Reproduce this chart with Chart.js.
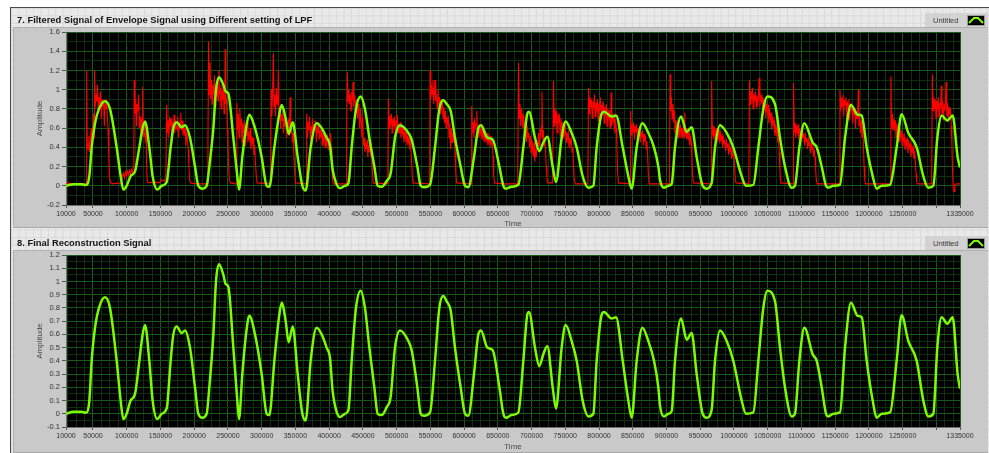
<!DOCTYPE html>
<html>
<head>
<meta charset="utf-8">
<script src="https://cdn.jsdelivr.net/npm/chart.js@4.4.1/dist/chart.umd.min.js"></script>
<style>
  html, body { margin: 0; padding: 0; }
  body { width: 989px; height: 453px; position: relative; overflow: hidden; background: #ffffff;
         font-family: 'Liberation Sans', Arial, sans-serif; }
  #panel { position: absolute; left: 10px; top: 7px; width: 979px; height: 446px;
           border-left: 1px solid #4a4a4a; border-top: 1px solid #4a4a4a;
           background-color: #e9e9e9;
           background-image: linear-gradient(#d9d9d9 1px, transparent 1px),
                             linear-gradient(90deg, #d9d9d9 1px, transparent 1px);
           background-size: 7.4px 7.4px; }
  .frame { position: absolute; left: 13px; width: 975px; background: #c9c9c9;
           border-top: 1px solid #b0b0b0; border-left: 1px solid #b0b0b0; border-bottom: 1px solid #a8a8a8;
           box-sizing: border-box; }
  .title { position: absolute; left: 17px; font-weight: bold; font-size: 9.4px; color: #141414; white-space: nowrap; }
  .legend { position: absolute; left: 925px; width: 63px; height: 14px; background: #d3d3d3; }
  .legend span { position: absolute; left: 8px; top: 3px; font-size: 7.5px; color: #3a3a3a; }
  .legend svg { position: absolute; left: 42px; top: 2px; }
  canvas { position: absolute; }
</style>
</head>
<body>
<div id="panel"></div>
<div class="frame" style="top:27px;height:201px;"></div>
<div class="frame" style="top:250px;height:203px;"></div>

<canvas id="topChart" width="975" height="206" style="left:13px;top:24px;"></canvas>
<canvas id="bottomChart" width="975" height="206" style="left:13px;top:247px;"></canvas>

<div class="title" style="top:14px;">7. Filtered Signal of Envelope Signal using Different setting of LPF</div>
<div class="title" style="top:237px;">8. Final Reconstruction Signal</div>

<div class="legend" style="top:13px;"><span>Untitled</span>
  <svg width="18" height="11"><rect x="0.5" y="0.5" width="17" height="10" fill="#000" stroke="#9a9a9a"/>
  <polyline points="2,8 7,3 11,3 16,8" fill="none" stroke="#7cfc00" stroke-width="2"/></svg></div>
<div class="legend" style="top:236px;"><span>Untitled</span>
  <svg width="18" height="11"><rect x="0.5" y="0.5" width="17" height="10" fill="#000" stroke="#9a9a9a"/>
  <polyline points="2,8 7,3 11,3 16,8" fill="none" stroke="#7cfc00" stroke-width="2"/></svg></div>

<script>
// Time axis: range and labelled ticks (1300000 carries a tick mark only)
const timeMin = 10000;
const timeMax = 1335000;
const timeTicks = [10000, 50000, 100000, 150000, 200000, 250000, 300000, 350000, 400000, 450000,
  500000, 550000, 600000, 650000, 700000, 750000, 800000, 850000, 900000, 950000, 1000000,
  1050000, 1100000, 1150000, 1200000, 1250000, 1300000, 1335000];
const timeUnlabelled = [1300000];

// Amplitude axes
const topAmpTicks = [-0.2, 0, 0.2, 0.4, 0.6, 0.8, 1, 1.2, 1.4, 1.6];
const bottomAmpTicks = [-0.1, 0, 0.1, 0.2, 0.3, 0.4, 0.5, 0.6, 0.7, 0.8, 0.9, 1, 1.1, 1.2];

// Low-pass filtered envelope / final reconstruction [time, amplitude]
const filteredEnvelope = [
  [10000,0.0],[20870,0.015],[33200,0.015],[39640,0.008],[44580,0.1],[48040,0.4],[53000,0.65],[58900,0.8],
  [67800,0.88],[75200,0.8],[85100,0.4],[91000,0.1],[95000,-0.04],[99900,0.0],[105800,0.1],[112300,0.15],
  [118700,0.4],[123600,0.6],[127100,0.67],[133500,0.4],[138400,0.1],[145400,-0.04],[151800,0.0],[159200,0.04],
  [165100,0.4],[169100,0.6],[174000,0.66],[181400,0.61],[186400,0.63],[193800,0.5],[201200,0.2],[206100,0.0],
  [212100,-0.03],[218500,0.0],[222400,0.2],[228400,0.6],[232300,1.0],[236800,1.13],[243200,1.05],[246700,0.98],
  [250600,0.96],[258000,0.5],[263900,0.1],[266400,-0.04],[271300,0.3],[276800,0.6],[281700,0.74],[290100,0.6],
  [300000,0.3],[307400,0.0],[311400,-0.01],[318800,0.4],[326200,0.75],[329700,0.84],[335600,0.7],[340000,0.54],
  [346000,0.66],[353400,0.3],[360300,0.0],[365200,-0.05],[372600,0.4],[381500,0.65],[388900,0.6],[396300,0.5],
  [401300,0.42],[405200,0.17],[410200,0.03],[416100,-0.025],[423500,0.0],[428500,0.025],[433400,0.4],[439800,0.8],
  [446700,0.93],[453100,0.8],[459600,0.5],[467000,0.2],[471900,0.0],[477900,-0.01],[485300,0.05],[491200,0.13],
  [497600,0.5],[505000,0.63],[517400,0.55],[522300,0.48],[530700,0.2],[535700,0.0],[540600,-0.015],[549500,0.01],
  [556900,0.4],[563300,0.8],[569200,0.89],[574200,0.85],[580100,0.78],[586500,0.5],[594900,0.2],[601400,0.0],
  [606300,-0.015],[614700,0.3],[621100,0.6],[625100,0.63],[634500,0.5],[642400,0.48],[652300,0.2],[658200,0.0],
  [662100,-0.03],[670500,-0.01],[680400,0.01],[687800,0.4],[693700,0.75],[696200,0.77],[705100,0.5],[711500,0.36],
  [717400,0.45],[723400,0.51],[731300,0.2],[736200,0.04],[744600,0.5],[750500,0.67],[759400,0.55],[766900,0.4],
  [775700,0.1],[784200,-0.02],[791600,0.0],[796500,0.4],[803900,0.75],[807400,0.77],[818700,0.72],[825200,0.73],
  [835100,0.4],[843400,0.1],[848400,-0.03],[855800,0.4],[864200,0.65],[873100,0.55],[881500,0.4],[887900,0.2],
  [890400,0.06],[896300,-0.02],[902700,0.0],[907700,0.02],[912600,0.4],[921500,0.72],[929900,0.56],[937300,0.61],
  [944700,0.3],[953600,0.0],[959500,-0.03],[966900,0.03],[971900,0.4],[979300,0.63],[989200,0.55],[999000,0.4],
  [1011400,0.1],[1017800,0.0],[1028700,0.01],[1036100,0.4],[1043500,0.8],[1049500,0.93],[1060800,0.85],[1068200,0.5],
  [1075600,0.2],[1085500,-0.02],[1090400,0.0],[1096900,0.4],[1104300,0.65],[1116600,0.45],[1122600,0.4],[1130000,0.2],
  [1136400,0.0],[1139800,-0.02],[1147300,0.0],[1157100,0.01],[1164600,0.5],[1173400,0.84],[1183300,0.74],[1189300,0.73],
  [1196700,0.4],[1205600,0.1],[1211500,-0.03],[1218900,0.0],[1231300,0.01],[1241100,0.4],[1248500,0.745],[1258400,0.55],
  [1270800,0.4],[1280600,0.1],[1288000,-0.02],[1295500,0.0],[1301400,0.5],[1307800,0.73],[1316200,0.68],[1324100,0.73],
  [1331500,0.3],[1335000,0.19]
];

// Raw envelope before filtering [time, amplitude]
const rawEnvelope = [
  [10000,-0.01],[12000,0.03],[20000,0.02],[30000,0.025],[39800,0.02],
  [40600,1.2],[41500,0.45],[42700,0.38],[43900,0.52],[45000,0.35],[46200,0.48],[47400,0.6],[48500,0.42],[49700,0.55],
  [50800,0.75],[51600,0.5],[52200,1.2],[53300,0.82],[54500,0.95],[55600,0.88],[56700,1.05],[57800,0.78],[59000,0.92],
  [60100,0.85],[61200,0.98],[62300,0.7],[63400,0.9],[64600,0.82],[65700,0.88],[66800,0.62],[67900,0.86],[69000,0.8],
  [70100,0.9],[71200,0.74],[72300,0.6],[73400,0.3],[74600,0.08],[76000,0.03],[78000,0.02],
  [92000,0.03],[93500,0.1],[95000,0.13],[96500,0.08],[98000,0.14],[99500,0.1],[101000,0.15],[102500,0.11],[104000,0.16],
  [105500,0.12],[107000,0.17],[108500,0.14],[110000,0.2],[110600,0.3],
  [111100,1.1],[112200,0.75],[113300,0.9],[114400,0.62],[115500,0.85],[116600,0.78],[117700,0.95],[118800,0.6],
  [119900,0.72],[121000,0.55],[122100,0.7],[123000,0.62],[123600,1.03],[124500,0.58],[125600,0.5],[126700,0.65],
  [127800,0.45],[128800,0.55],[129500,0.22],[130300,0.06],[132000,0.03],
  [140000,0.04],[148000,0.03],[152000,0.06],[156000,0.05],[158000,0.08],
  [159200,0.84],[160300,0.55],[161400,0.68],[162500,0.5],[163600,0.72],[164700,0.62],[165800,0.7],[166900,0.45],
  [168000,0.66],[169100,0.6],[170200,0.74],[171300,0.55],[172400,0.68],[173500,0.62],[174600,0.58],[175700,0.72],
  [176800,0.5],[177900,0.66],[179000,0.6],[180100,0.76],[181200,0.58],[182300,0.68],[183400,0.52],[184500,0.62],
  [185600,0.55],[186700,0.6],[187800,0.42],[188900,0.55],[190000,0.48],[191100,0.38],[192200,0.2],[193300,0.06],
  [194500,0.03],
  [205000,0.02],[219500,0.02],
  [220400,0.5],[221400,1.5],[222400,0.95],[223400,1.28],[224500,0.9],[225600,1.1],[226700,0.85],[227800,1.05],
  [228900,0.95],[230000,1.15],[231100,0.82],[232200,1.0],[233300,0.92],[234400,1.08],[235500,0.88],[236600,1.2],
  [237700,0.95],[238800,1.02],[239900,0.8],[241000,1.05],[242100,0.9],[243200,1.0],[244300,0.75],[245300,0.95],
  [246000,1.42],[247000,0.85],[248000,0.92],[249000,0.6],[250000,0.5],[251000,0.2],[252200,0.06],[253500,0.03],
  [262000,0.02],
  [263200,0.86],[264300,0.58],[265400,0.75],[266500,0.5],[267600,0.8],[268700,0.62],[269800,0.7],[270900,0.45],
  [272000,0.65],[273100,0.55],[274200,0.68],[275300,0.42],[276400,0.6],[277500,0.52],[278600,0.66],[279700,0.45],
  [280800,0.56],[281900,0.5],[283000,0.6],[284100,0.38],[285200,0.52],[286300,0.45],[287400,0.5],[288500,0.32],
  [289600,0.42],[290700,0.25],[291800,0.12],[293200,0.03],
  [313500,0.02],
  [313900,1.0],[315000,0.72],[316200,0.98],[317300,1.38],[318400,0.82],[319500,0.95],[320600,0.72],[321700,1.02],
  [322800,0.85],[323900,0.9],[324700,1.2],[325800,0.7],[326900,0.82],[328000,0.6],[329100,0.75],[330200,0.68],
  [331300,0.8],[332400,0.55],[333500,0.7],[334600,0.62],[335700,0.72],[336800,0.5],[337900,0.66],[339000,0.6],
  [340100,0.7],[341200,0.52],[342200,0.92],[343300,0.55],[344400,0.62],[345500,0.45],[346600,0.55],[347700,0.35],
  [348800,0.15],[350200,0.03],
  [366000,0.02],
  [366700,0.75],[367800,0.5],[368900,0.66],[370000,0.58],[371100,0.72],[372200,0.48],[373300,0.62],[374400,0.55],
  [375500,0.7],[376600,0.52],[377700,0.64],[378800,0.58],[379900,0.68],[381000,0.45],[382100,0.6],[383200,0.55],
  [384300,0.66],[385400,0.48],[386500,0.58],[387600,0.5],[388700,0.6],[389800,0.42],[390900,0.55],[392000,0.48],
  [393100,0.56],[394200,0.4],[395300,0.52],[396400,0.45],[397500,0.5],[398600,0.38],[399700,0.5],[400800,0.44],
  [401900,0.55],[403000,0.4],[404000,0.2],[405000,0.06],[406300,0.02],
  [425000,0.02],
  [426000,0.55],[426900,1.18],[428000,0.88],[429100,1.0],[430200,0.85],[431300,0.95],[432400,0.78],[433500,0.98],
  [434600,0.9],[435400,1.08],[436500,0.82],[437600,0.95],[438700,0.88],[439800,0.76],[440900,0.9],[442000,0.7],
  [443100,0.85],[444200,0.78],[445300,0.6],[446400,0.8],[447500,0.68],[448600,0.5],[449700,0.72],[450800,0.42],
  [451900,0.5],[453000,0.35],[454100,0.45],[455200,0.38],[456300,0.48],[457400,0.3],[458500,0.42],[459600,0.35],
  [460700,0.45],[461800,0.3],[462900,0.36],[464000,0.15],[465300,0.03],
  [487000,0.02],
  [487800,0.91],[488900,0.6],[490000,0.72],[491100,0.66],[492200,0.75],[493300,0.55],[494400,0.7],[495500,0.62],
  [496600,0.72],[497700,0.58],[498800,0.68],[499900,0.62],[501000,0.74],[502100,0.55],[503200,0.64],[504300,0.58],
  [505400,0.66],[506500,0.5],[507600,0.6],[508700,0.55],[509800,0.62],[510900,0.45],[512000,0.56],[513100,0.5],
  [514200,0.58],[515300,0.42],[516400,0.52],[517500,0.45],[518600,0.5],[519700,0.38],[520800,0.42],[521900,0.3],
  [523000,0.12],[524300,0.03],
  [549000,0.02],
  [549500,1.2],[550600,0.9],[551700,1.05],[552800,0.95],[553900,1.1],[555000,0.85],[556100,0.98],[556900,1.1],
  [558000,0.88],[559100,0.95],[560200,0.8],[561300,1.0],[562400,0.85],[563500,0.92],[564600,0.75],[565700,0.9],
  [566800,0.82],[567900,0.88],[569000,0.7],[570100,0.82],[571200,0.65],[572300,0.78],[573400,0.6],[574500,0.72],
  [575600,0.66],[576700,0.7],[577800,0.5],[578900,0.65],[580000,0.38],[581100,0.6],[582200,0.45],[583300,0.55],
  [584400,0.48],[585500,0.52],[586600,0.35],[587700,0.15],[589000,0.03],
  [610500,0.02],
  [611300,0.83],[612400,0.55],[613500,0.66],[614600,0.5],[615700,0.7],[616800,0.6],[617900,0.64],[618900,0.78],
  [619900,0.55],[621000,0.62],[622100,0.5],[623200,0.6],[624300,0.55],[625400,0.64],[626500,0.48],[627600,0.56],
  [628700,0.5],[629800,0.58],[630900,0.45],[632000,0.52],[633100,0.48],[634200,0.55],[635300,0.42],[636400,0.5],
  [637500,0.45],[638600,0.52],[639700,0.4],[640800,0.48],[641900,0.44],[643000,0.3],[644000,0.1],[645200,0.03],
  [660000,0.02],[679500,0.02],
  [680600,1.28],[681700,0.7],[682800,0.85],[683900,0.62],[685000,0.8],[686100,0.72],[687200,0.6],[688300,0.75],
  [689400,0.52],[690500,0.66],[691600,0.58],[692700,0.45],[693800,0.62],[694900,0.5],[696000,0.55],[697100,0.4],
  [698200,0.52],[699300,0.35],[700400,0.48],[701500,0.42],[702600,0.3],[703700,0.45],[704800,0.25],[705900,0.38],
  [707000,0.3],[708100,0.45],[709200,0.38],[710300,0.55],[711400,0.42],[712500,0.6],[713600,0.5],[714600,0.62],
  [715400,0.98],[716400,0.48],[717500,0.58],[718600,0.42],[719700,0.5],[720800,0.35],[721800,0.2],[722800,0.08],
  [724000,0.03],[731000,0.03],
  [732500,1.09],[733600,0.62],[734700,0.8],[735800,0.65],[736900,0.78],[738000,0.55],[739100,0.75],[740200,0.68],
  [741300,0.72],[742400,0.52],[743500,0.7],[744600,0.6],[745700,0.66],[746800,0.5],[747900,0.62],[749000,0.55],
  [750100,0.6],[751200,0.45],[752300,0.56],[753400,0.5],[754500,0.55],[755600,0.4],[756700,0.5],[757800,0.45],
  [758900,0.48],[760000,0.35],[761100,0.4],[762200,0.22],[763300,0.06],[764800,0.02],
  [783500,0.02],
  [784400,1.02],[785500,0.75],[786600,0.92],[787700,0.82],[788800,0.9],[789900,0.7],[791000,0.88],[792100,0.8],
  [793200,0.95],[794300,0.72],[795400,0.86],[796500,0.8],[797600,0.9],[798700,0.68],[799800,0.85],[800900,0.78],
  [802000,0.92],[803100,0.74],[804200,0.84],[805300,0.8],[806400,0.88],[807500,0.65],[808600,0.82],[809700,0.76],
  [810800,0.85],[811900,0.62],[813000,0.8],[814100,0.72],[815200,0.78],[816300,0.6],[817400,0.75],[818000,0.97],
  [819000,0.62],[820100,0.75],[821200,0.68],[822300,0.72],[823400,0.55],[824500,0.68],[825600,0.6],[826500,0.4],
  [827500,0.15],[828700,0.03],
  [846000,0.02],
  [846900,0.78],[848000,0.52],[849100,0.64],[850200,0.55],[851300,0.66],[852400,0.48],[853500,0.62],[854600,0.56],
  [855700,0.64],[856800,0.46],[857900,0.6],[859000,0.52],[860100,0.6],[861200,0.45],[862300,0.56],[863400,0.5],
  [864500,0.58],[865600,0.42],[866700,0.54],[867800,0.46],[868900,0.52],[870000,0.38],[871100,0.46],[872100,0.3],
  [873100,0.12],[874300,0.02],
  [904500,0.02],
  [905200,1.16],[906300,0.78],[907400,0.92],[908500,0.7],[909600,0.85],[910700,0.66],[911800,0.78],[912900,0.55],
  [914000,0.68],[915100,0.6],[916200,0.65],[917300,0.5],[918400,0.62],[919500,0.56],[920600,0.64],[921700,0.5],
  [922800,0.6],[923900,0.54],[925000,0.62],[926100,0.5],[926900,0.76],[927900,0.52],[929000,0.6],[930100,0.48],
  [931200,0.58],[932300,0.5],[933400,0.55],[934500,0.42],[935600,0.52],[936700,0.45],[937700,0.3],[938700,0.1],
  [940000,0.03],
  [966000,0.02],
  [966900,1.09],[968000,0.52],[969100,0.62],[970200,0.48],[971300,0.58],[972400,0.52],[973500,0.6],[974600,0.45],
  [975700,0.56],[976800,0.5],[977900,0.58],[979000,0.44],[980100,0.54],[981200,0.48],[982300,0.52],[983400,0.4],
  [984500,0.5],[985600,0.44],[986700,0.48],[987800,0.36],[988900,0.46],[990000,0.4],[991100,0.44],[992200,0.32],
  [993300,0.42],[994400,0.36],[995500,0.4],[996600,0.28],[997700,0.36],[998800,0.3],[999900,0.32],[1000900,0.2],
  [1001900,0.07],[1003100,0.03],
  [1022000,0.02],
  [1023000,1.1],[1024100,0.85],[1025200,0.98],[1026300,0.9],[1027400,1.02],[1028500,0.8],[1029600,0.95],[1030700,0.88],
  [1031800,0.98],[1032900,0.82],[1034000,0.94],[1035100,0.86],[1036200,0.92],[1037400,1.12],[1038500,0.82],[1039600,0.95],
  [1040700,0.88],[1041800,0.92],[1042900,0.75],[1044000,0.9],[1045100,0.82],[1046200,0.88],[1047300,0.7],[1048400,0.85],
  [1049500,0.78],[1050600,0.84],[1051700,0.65],[1052800,0.8],[1053900,0.7],[1055000,0.76],[1056100,0.58],[1057200,0.72],
  [1058300,0.64],[1059400,0.68],[1060500,0.52],[1061600,0.64],[1062700,0.55],[1063800,0.6],[1064900,0.45],[1066000,0.5],
  [1067100,0.35],[1068200,0.15],[1069500,0.03],
  [1087500,0.02],
  [1088300,1.07],[1089400,0.55],[1090500,0.65],[1091600,0.5],[1092700,0.62],[1093800,0.56],[1094900,0.64],[1096000,0.48],
  [1097100,0.6],[1098200,0.52],[1099300,0.58],[1100400,0.45],[1101500,0.56],[1102600,0.5],[1103700,0.55],[1104800,0.42],
  [1105900,0.52],[1107000,0.46],[1108100,0.5],[1109200,0.38],[1110300,0.48],[1111400,0.42],[1112500,0.46],[1113600,0.34],
  [1114700,0.44],[1115800,0.38],[1116900,0.42],[1118000,0.3],[1119100,0.38],[1120200,0.3],[1121200,0.15],[1122200,0.05],
  [1123300,0.02],
  [1156000,0.02],
  [1157100,1.0],[1158200,0.78],[1159300,0.92],[1160400,0.82],[1161500,0.95],[1162600,0.72],[1163700,0.9],[1164800,0.84],
  [1165900,0.92],[1167000,0.7],[1168100,0.88],[1169200,0.8],[1170300,0.9],[1171400,0.68],[1172500,0.85],[1173600,0.78],
  [1174700,0.86],[1175800,0.65],[1176900,0.82],[1178000,0.74],[1179100,0.8],[1180200,0.6],[1181300,0.78],[1182400,0.7],
  [1183400,0.76],[1184300,1.0],[1185300,0.62],[1186400,0.72],[1187500,0.55],[1188600,0.68],[1189700,0.5],[1190800,0.62],
  [1191800,0.45],[1192800,0.2],[1194000,0.05],[1195200,0.02],
  [1231800,0.02],
  [1232600,1.14],[1233700,0.6],[1234800,0.75],[1235900,0.58],[1237000,0.7],[1238100,0.62],[1239200,0.68],[1240300,0.5],
  [1241400,0.65],[1242500,0.56],[1243600,0.62],[1244700,0.46],[1245800,0.6],[1246900,0.52],[1248000,0.58],[1249100,0.42],
  [1250200,0.55],[1251300,0.48],[1252400,0.52],[1253500,0.38],[1254600,0.5],[1255700,0.44],[1256800,0.48],[1257900,0.34],
  [1259000,0.45],[1260100,0.4],[1261200,0.44],[1262300,0.3],[1263400,0.42],[1264500,0.36],[1265600,0.4],[1266700,0.28],
  [1267800,0.36],[1268900,0.25],[1269900,0.12],[1271000,0.04],[1272300,0.02],
  [1293000,0.02],
  [1294000,1.16],[1295100,0.78],[1296200,0.92],[1297300,0.8],[1298400,0.9],[1299500,0.7],[1300600,0.88],[1301700,0.82],
  [1302800,0.92],[1303900,0.72],[1305000,0.86],[1306100,0.8],[1307200,1.04],[1308300,0.75],[1309400,0.88],[1310500,0.68],
  [1311600,0.85],[1312700,0.78],[1313600,0.9],[1314400,1.08],[1315400,0.72],[1316500,0.86],[1317600,0.66],[1318700,0.82],
  [1319800,0.74],[1320900,0.8],[1322000,0.62],[1323000,0.45],[1324000,0.15],[1325000,-0.02],[1326300,-0.06],[1327500,0.01],
  [1329000,0.02],[1335000,0.02]
];

const FONT = "'Liberation Sans', Arial, sans-serif";
const MAJOR_GRID = '#195a19';
const MINOR_GRID = '#0b300b';

const toPoints = rows => rows.map(r => ({ x: r[0], y: r[1] }));

// Majors from the given list, minors every minorStep that is not a major multiple
function tickSet(majors, min, max, majorStep, minorStep) {
  const out = majors.map(v => ({ value: v, minor: false }));
  const n0 = Math.ceil(min / minorStep - 1e-9), n1 = Math.floor(max / minorStep + 1e-9);
  for (let k = n0; k <= n1; k++) {
    const v = k * minorStep;
    const r = Math.abs(v / majorStep - Math.round(v / majorStep));
    if (r > 1e-6 && v > min + 1e-9 && v < max - 1e-9) out.push({ value: v, minor: true });
  }
  out.sort((a, b) => a.value - b.value);
  return out;
}

const plotBackground = {
  id: 'plotBackground',
  beforeDraw(chart) {
    const { ctx, chartArea: a } = chart;
    ctx.save();
    ctx.fillStyle = '#000000';
    ctx.fillRect(a.left, a.top, a.right - a.left, a.bottom - a.top);
    ctx.restore();
  }
};

function makeGraph(canvasId, datasets, amp) {
  return new Chart(document.getElementById(canvasId), {
    type: 'line',
    data: { datasets },
    options: {
      responsive: false,
      animation: false,
      devicePixelRatio: 1,
      layout: { padding: { left: 0, right: 28, top: 8, bottom: 0 } },
      plugins: { legend: { display: false }, tooltip: { enabled: false } },
      elements: { point: { radius: 0 } },
      scales: {
        x: {
          type: 'linear', min: timeMin, max: timeMax,
          afterBuildTicks: s => { s.ticks = tickSet(timeTicks, timeMin, timeMax, 50000, 12500); },
          afterFit: s => { s.height = amp.xHeight; },
          ticks: {
            autoSkip: false, maxRotation: 0, minRotation: 0, padding: 2,
            color: '#333333', font: { family: FONT, size: 7 },
            callback: (v, i, ticks) => (ticks[i].minor || timeUnlabelled.includes(v)) ? '' : String(v)
          },
          grid: {
            tickLength: 3,
            color: c => (c.tick && c.tick.minor) ? MINOR_GRID : MAJOR_GRID,
            tickColor: c => (c.tick && c.tick.minor) ? 'rgba(0,0,0,0)' : '#555555'
          },
          border: { color: '#707070' },
          title: { display: true, text: 'Time', color: '#4a4a4a', font: { family: FONT, size: 8 },
                   padding: { top: 0, bottom: 1 } }
        },
        y: {
          type: 'linear', min: amp.min, max: amp.max,
          afterBuildTicks: s => { s.ticks = tickSet(amp.ticks, amp.min, amp.max, amp.step, amp.step / 2); },
          afterFit: s => { s.width = 53; },
          ticks: {
            autoSkip: false, padding: 2, color: '#333333', font: { family: FONT, size: 7.5 },
            callback: (v, i, ticks) => ticks[i].minor ? '' : String(Number(v.toFixed(2)))
          },
          grid: {
            tickLength: 4,
            color: c => (c.tick && c.tick.minor) ? MINOR_GRID : MAJOR_GRID,
            tickColor: c => (c.tick && c.tick.minor) ? 'rgba(0,0,0,0)' : '#555555'
          },
          border: { color: '#707070' },
          title: { display: true, text: 'Amplitude', color: '#4a4a4a', font: { family: FONT, size: 8 },
                   padding: { top: 22, bottom: 0 } }
        }
      }
    },
    plugins: [plotBackground]
  });
}

const greenLine = () => ({
  data: toPoints(filteredEnvelope), borderColor: '#7cfc00', borderWidth: 2.5,
  cubicInterpolationMode: 'monotone', pointRadius: 0, fill: false
});

makeGraph('topChart', [
  greenLine(),
  { data: toPoints(rawEnvelope), borderColor: '#ff0000', borderWidth: 1.1, tension: 0, pointRadius: 0, fill: false }
], { min: -0.2, max: 1.6, step: 0.2, ticks: topAmpTicks, xHeight: 25 });

makeGraph('bottomChart', [greenLine()],
  { min: -0.1, max: 1.2, step: 0.1, ticks: bottomAmpTicks, xHeight: 26 });
</script>
</body>
</html>
